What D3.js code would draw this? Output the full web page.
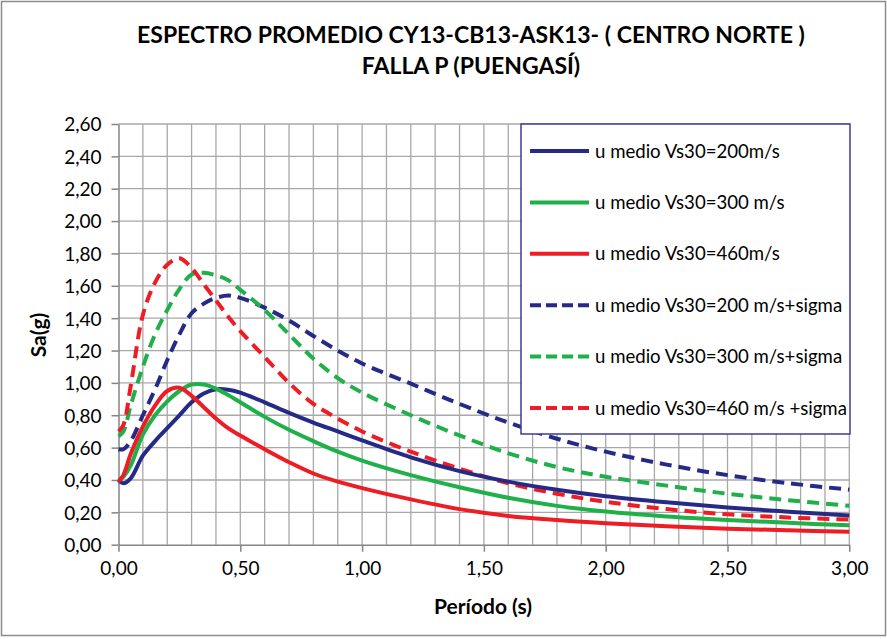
<!DOCTYPE html>
<html>
<head>
<meta charset="utf-8">
<script src="https://cdn.jsdelivr.net/npm/d3@7"></script>
<style>
  html, body { margin: 0; padding: 0; background: #fff; }
  svg { display: block; }
  text { font-family: Lato, "Open Sans", sans-serif; fill: #000; }
</style>
</head>
<body>
<svg id="chart" width="887" height="639"></svg>
<script>
// Periods (s) at which the spectra are sampled
const periods = [0, 0.02, 0.05, 0.1, 0.15, 0.2, 0.25, 0.3, 0.35, 0.4, 0.45, 0.5, 0.6, 0.7, 0.8, 0.9, 1.0, 1.2, 1.4, 1.6, 1.8, 2.0, 2.25, 2.5, 2.75, 3.0];

// Mean spectral accelerations Sa (g)
const medio200 = [0.40, 0.38, 0.41, 0.55, 0.64, 0.72, 0.80, 0.88, 0.935, 0.96, 0.958, 0.94, 0.88, 0.815, 0.755, 0.70, 0.645, 0.54, 0.455, 0.39, 0.34, 0.30, 0.262, 0.23, 0.204, 0.18];
const medio300 = [0.40, 0.42, 0.49, 0.68, 0.80, 0.885, 0.95, 0.99, 0.99, 0.965, 0.925, 0.88, 0.79, 0.71, 0.64, 0.575, 0.52, 0.43, 0.355, 0.29, 0.24, 0.205, 0.175, 0.153, 0.135, 0.12];
const medio460 = [0.39, 0.43, 0.56, 0.73, 0.86, 0.95, 0.97, 0.92, 0.85, 0.78, 0.72, 0.675, 0.59, 0.51, 0.44, 0.39, 0.35, 0.28, 0.22, 0.178, 0.152, 0.133, 0.114, 0.099, 0.089, 0.08];

// Mean + sigma spectral accelerations Sa (g)
const sigma200 = [0.59, 0.59, 0.64, 0.80, 0.96, 1.14, 1.30, 1.43, 1.49, 1.525, 1.54, 1.525, 1.465, 1.385, 1.29, 1.20, 1.12, 0.995, 0.87, 0.755, 0.655, 0.575, 0.495, 0.43, 0.38, 0.34];
const sigma300 = [0.67, 0.70, 0.86, 1.10, 1.30, 1.45, 1.58, 1.67, 1.68, 1.665, 1.635, 1.575, 1.45, 1.30, 1.15, 1.03, 0.94, 0.80, 0.675, 0.565, 0.48, 0.42, 0.365, 0.315, 0.275, 0.24];
const sigma460 = [0.70, 0.74, 0.98, 1.42, 1.62, 1.73, 1.77, 1.71, 1.61, 1.51, 1.41, 1.32, 1.16, 1.00, 0.87, 0.78, 0.70, 0.575, 0.47, 0.38, 0.315, 0.265, 0.22, 0.188, 0.168, 0.155];

const seriesNames = [
  "u medio Vs30=200m/s",
  "u medio Vs30=300 m/s",
  "u medio Vs30=460m/s",
  "u medio Vs30=200 m/s+sigma",
  "u medio Vs30=300 m/s+sigma",
  "u medio Vs30=460 m/s +sigma"
];
const seriesValues = [medio200, medio300, medio460, sigma200, sigma300, sigma460];
const seriesColors = ["#262a87", "#1fb04a", "#ee1c24", "#262a87", "#1fb04a", "#ee1c24"];
const seriesDashed = [false, false, false, true, true, true];

const xTicks = [0, 0.5, 1.0, 1.5, 2.0, 2.5, 3.0];
const yTicks = [0, 0.2, 0.4, 0.6, 0.8, 1.0, 1.2, 1.4, 1.6, 1.8, 2.0, 2.2, 2.4, 2.6];

const titleLines = ["ESPECTRO PROMEDIO CY13-CB13-ASK13- ( CENTRO NORTE )", "FALLA P (PUENGASÍ)"];
const xLabel = "Período (s)";
const yLabel = "Sa(g)";

const fmt = d => d.toFixed(2).replace(".", ",");

const svg = d3.select("#chart");
const W = 887, H = 639;
const plot = { left: 118.5, right: 849.3, top: 124, bottom: 544.7 };

// outer frame
svg.append("rect")
  .attr("x", 1.5).attr("y", 1.5).attr("width", W - 3).attr("height", H - 5)
  .attr("fill", "#fff").attr("stroke", "#8c8c8c").attr("stroke-width", 1.5);

const x = d3.scaleLinear().domain([0, 3]).range([plot.left, plot.right]);
const y = d3.scaleLinear().domain([0, 2.6]).range([plot.bottom, plot.top]);

// grid
const grid = svg.append("g").attr("stroke", "#a8a8a8").attr("stroke-width", 1.3);
grid.selectAll("line.v").data(d3.range(1, 31).map(i => i / 10)).join("line")
  .attr("x1", d => x(d)).attr("x2", d => x(d))
  .attr("y1", plot.top).attr("y2", plot.bottom);
grid.selectAll("line.h").data(yTicks.slice(1)).join("line")
  .attr("x1", plot.left).attr("x2", plot.right)
  .attr("y1", d => y(d)).attr("y2", d => y(d));

// axes
const xAxis = svg.append("g")
  .attr("transform", `translate(0,${plot.bottom})`)
  .call(d3.axisBottom(x).tickValues(xTicks).tickFormat(fmt).tickSize(7).tickSizeOuter(0).tickPadding(10));
const yAxis = svg.append("g")
  .attr("transform", `translate(${plot.left},0)`)
  .call(d3.axisLeft(y).tickValues(yTicks).tickFormat(fmt).tickSize(7).tickSizeOuter(0).tickPadding(10));
[xAxis, yAxis].forEach(a => {
  a.selectAll("path, line").attr("stroke", "#858585").attr("stroke-width", 1.5);
  a.selectAll("text").attr("font-family", "Lato, sans-serif").attr("font-size", 19).attr("fill", "#000");
});
yAxis.selectAll("text").attr("dy", "0.36em");

// spectra
const line = d3.line()
  .x((d, i) => x(periods[i]))
  .y(d => y(d))
  .curve(d3.curveCatmullRom.alpha(0.5));

const order = [3, 4, 5, 0, 1, 2];
svg.append("g").selectAll("path").data(order).join("path")
  .attr("d", i => line(seriesValues[i]))
  .attr("fill", "none")
  .attr("stroke", i => seriesColors[i])
  .attr("stroke-width", 4)
  .attr("stroke-dasharray", i => seriesDashed[i] ? "12,7" : null)
  .attr("stroke-linejoin", "round");

// legend
const lg = { x: 521, y: 124, w: 329, h: 310 };
const legend = svg.append("g");
legend.append("rect")
  .attr("x", lg.x).attr("y", lg.y).attr("width", lg.w).attr("height", lg.h)
  .attr("fill", "#fff").attr("stroke", "#3c3c9a").attr("stroke-width", 1.5);
const rowY = i => lg.y + 27 + i * 51.4;
const rows = legend.selectAll("g.row").data(seriesNames).join("g").attr("class", "row");
rows.append("line")
  .attr("x1", 530).attr("x2", 589)
  .attr("y1", (d, i) => rowY(i)).attr("y2", (d, i) => rowY(i))
  .attr("stroke", (d, i) => seriesColors[i])
  .attr("stroke-width", 4)
  .attr("stroke-dasharray", (d, i) => seriesDashed[i] ? "11,5" : null);
rows.append("text")
  .attr("x", 595).attr("y", (d, i) => rowY(i))
  .attr("dy", "0.35em")
  .attr("font-size", 18.6)
  .text(d => d);

// titles
svg.append("g").selectAll("text").data(titleLines).join("text")
  .attr("x", 471).attr("y", (d, i) => 43 + i * 31)
  .attr("text-anchor", "middle")
  .attr("font-weight", "bold").attr("font-size", 23)
  .text(d => d);

svg.append("text")
  .attr("x", 483).attr("y", 614)
  .attr("text-anchor", "middle")
  .attr("font-weight", "bold").attr("font-size", 21)
  .text(xLabel);

svg.append("text")
  .attr("transform", "translate(46,335) rotate(-90)")
  .attr("text-anchor", "middle")
  .attr("font-weight", "bold").attr("font-size", 21)
  .text(yLabel);
</script>
</body>
</html>
